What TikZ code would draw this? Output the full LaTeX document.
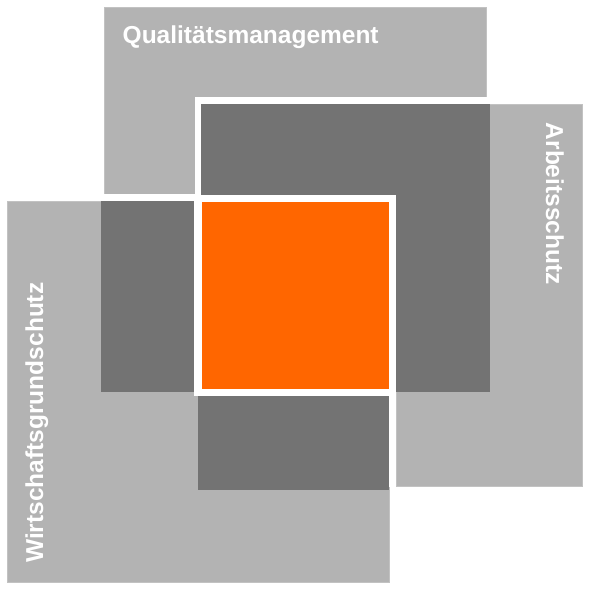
\documentclass[tikz,border=0pt]{standalone}
\usepackage{fontspec}
\setmainfont{Liberation Sans}
\definecolor{lightg}{HTML}{B3B3B3}
\definecolor{lightedge}{HTML}{C2C2C2}
\definecolor{darkg}{HTML}{737373}
\definecolor{orng}{HTML}{FF6600}
\begin{document}
\begin{tikzpicture}[x=1bp,y=-1bp,
  lightsq/.style={fill=lightg,draw=lightedge,line width=0.8bp},
  darksq/.style={fill=darkg},
  gap/.style={fill=white},
  core/.style={fill=orng},
  lbl/.style={text=white,inner sep=0pt,font=\fontsize{24.5bp}{29bp}\selectfont\bfseries}]
\useasboundingbox (0,0) rectangle (591,591);
\fill[white] (0,0) rectangle (591,591);
% three light squares
\path[lightsq] (104.4,7.4) rectangle (486.6,392);
\path[lightsq] (7.4,201.4) rectangle (389,582.6);
\path[lightsq] (396,104.4) rectangle (582.6,486.6);
% white gaps
\path[gap] (195,97.2) rectangle (490,201);
\path[gap] (100,194.4) rectangle (201,201);
% dark overlaps
\path[darksq] (201.4,104) rectangle (490,392);
\path[darksq] (100.8,201.4) rectangle (194.3,392.2);
\path[darksq] (198,396.4) rectangle (389,490);
% centre
\path[gap] (194.4,194.6) rectangle (396.4,396.4);
\path[gap] (389,389) rectangle (396.4,487);
\path[core] (201.6,201.6) rectangle (389,389);
% labels
\node[lbl,anchor=base west] (qm) at (122.5,43.6) {Qualitätsmanagement};
\node[lbl,anchor=base west,rotate=-90] (as) at (546,122.6) {Arbeitsschutz};
\node[lbl,anchor=base west,rotate=90] (wg) at (43,563) {Wirtschaftsgrundschutz};
\end{tikzpicture}
\end{document}
